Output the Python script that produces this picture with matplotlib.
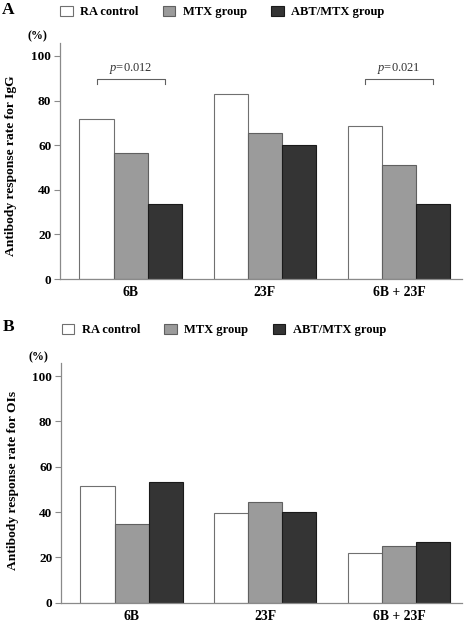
import numpy as np
import matplotlib
matplotlib.use("Agg")
import matplotlib.pyplot as plt

# =======================
# Données
# =======================
serotypes = ["6B", "23F", "6B + 23F"]
groups = ["RA control", "MTX group", "ABT/MTX group"]

igg_ra = [71.7, 83.0, 68.6]
igg_mtx = [56.4, 65.6, 51.0]
igg_abt = [33.5, 60.1, 33.5]

ois_ra = [51.7, 39.5, 21.8]
ois_mtx = [34.7, 44.3, 25.0]
ois_abt = [53.4, 40.0, 26.7]

# comparaisons significatives (IgG) : indice du sérotype, p-value
igg_pvals = [(0, "0.012"), (2, "0.021")]

plt.rcParams["font.family"] = ["Liberation Serif", "DejaVu Serif"]
plt.rcParams["mathtext.fontset"] = "custom"
plt.rcParams["mathtext.it"] = "Liberation Serif:italic"
plt.rcParams["mathtext.rm"] = "Liberation Serif"

faces = ["#ffffff", "#9b9b9b", "#343434"]
edges = ["#707070", "#606060", "#1a1a1a"]
axis_col = "#8a8a8a"

W, H = 472, 623
fig = plt.figure(figsize=(W / 100, H / 100), dpi=100)

width = 0.255
x = np.arange(len(serotypes))


def draw_panel(ax, series, ylabel, label_y):
    bars = []
    for i, vals in enumerate(series):
        b = ax.bar(x + (i - 1) * width, vals, width, color=faces[i],
                   edgecolor=edges[i], linewidth=0.8, label=groups[i])
        bars.append(b)
    ax.set_xlim(-0.53, 2.47)
    ax.set_ylim(0, 106)
    ax.set_yticks([0, 20, 40, 60, 80, 100])
    ax.set_xticks(x)
    ax.set_xticklabels(serotypes, fontsize=9.8, fontweight="bold")
    for lab in ax.get_yticklabels():
        lab.set_fontweight("bold")
    ax.tick_params(axis="y", length=4, width=0.8, color=axis_col,
                   labelsize=9.5, pad=2)
    ax.tick_params(axis="x", length=0, pad=5)
    for s in ["top", "right"]:
        ax.spines[s].set_visible(False)
    for s in ["left", "bottom"]:
        ax.spines[s].set_color(axis_col)
        ax.spines[s].set_linewidth(0.9)
    ax.set_ylabel(ylabel, fontsize=9.7, fontweight="bold")
    ax.yaxis.set_label_coords(-0.105, label_y)
    return bars


# ---- Panel A ----
axA = fig.add_axes([59.7 / W, 1 - 279 / H, 402.3 / W, 236.4 / H])
barsA = draw_panel(axA, [igg_ra, igg_mtx, igg_abt],
                   "Antibody response rate for IgG", 0.48)

for k, p in igg_pvals:
    x0 = x[k] - width
    x1 = x[k] + width
    axA.plot([x0, x0, x1, x1], [87.3, 89.7, 89.7, 87.3], color="#606060",
             linewidth=0.8)
    axA.text(x[k], 91.2, "$p$=" + p, ha="center", va="bottom", fontsize=9,
             color="#333333")

# ---- Panel B ----
axB = fig.add_axes([60.7 / W, 1 - 602.7 / H, 401 / W, 240.1 / H])
barsB = draw_panel(axB, [ois_ra, ois_mtx, ois_abt],
                   "Antibody response rate for OIs", 0.51)

# légendes, lettres et unités
for bars, lx, ly in [(barsA, 60, 12), (barsB, 61.7, 330)]:
    fig.legend(handles=bars, labels=groups, loc="center left",
               bbox_to_anchor=(lx / W, 1 - ly / H), ncol=3, frameon=False,
               prop={"weight": "bold", "size": 9}, borderpad=0,
               borderaxespad=0, handlelength=1.0, handleheight=0.9,
               handletextpad=0.6, columnspacing=1.95)

fig.text(2 / W, 1 - 10 / H, "A", fontsize=12.5, fontweight="bold",
         va="center", ha="left")
fig.text(3 / W, 1 - 327 / H, "B", fontsize=12.5, fontweight="bold",
         va="center", ha="left")
fig.text(37 / W, 1 - 36 / H, "(%)", fontsize=8.5, fontweight="bold",
         va="center", ha="center")
fig.text(38.5 / W, 1 - 357 / H, "(%)", fontsize=8.5, fontweight="bold",
         va="center", ha="center")

plt.savefig("out.png", dpi=100)
